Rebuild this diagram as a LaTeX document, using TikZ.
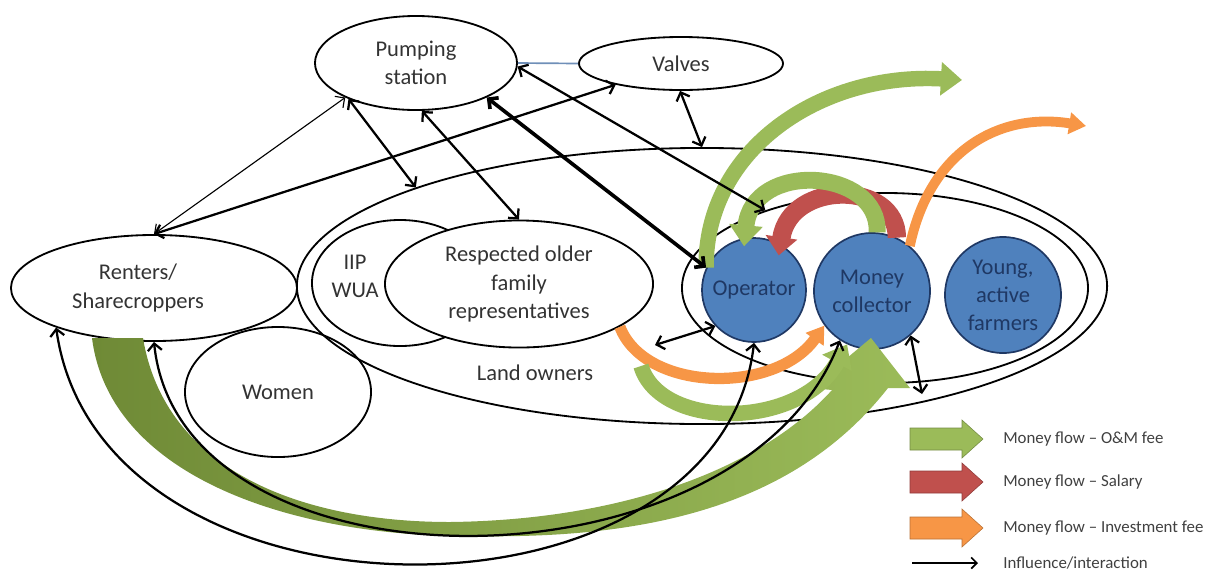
\documentclass[tikz,border=0pt]{standalone}
\usepackage{fontspec}
\setmainfont{Carlito}
\usetikzlibrary{arrows.meta,shapes.geometric}

\definecolor{omgreen}{HTML}{9BBB59}
\definecolor{omgreendark}{HTML}{6F8A36}
\definecolor{salred}{HTML}{C0504D}
\definecolor{invorange}{HTML}{F79646}
\definecolor{actblue}{HTML}{4F81BD}
\definecolor{actnavy}{HTML}{1F3864}
\definecolor{pipeblue}{HTML}{6F8FB8}

\tikzset{
  ell/.style={ellipse, draw, line width=1.3pt, inner sep=0pt, text=black!80,
    align=center, font=\fontsize{16}{20}\selectfont},
  lbl/.style={inner sep=0pt, text=black!80, align=center, font=\fontsize{16}{20}\selectfont},
  actor/.style={circle, draw=actnavy, line width=1.2pt, fill=actblue, inner sep=0pt,
    text=actnavy, align=center, font=\fontsize{16}{20}\selectfont},
  link/.style={line width=1.6pt,
    {Straight Barb[length=5pt,width=10pt]}-{Straight Barb[length=5pt,width=10pt]}},
  omfee/.style={draw=omgreen, line width=11pt, -{Triangle[length=15pt,width=23pt]}},
  salary/.style={draw=salred, line width=13pt, -{Triangle[length=13pt,width=22pt]}},
  invfee/.style={draw=invorange, line width=7pt, -{Triangle[length=12pt,width=15pt]}},
  key/.style={inner sep=0pt, anchor=west, text=black!75, font=\fontsize{12}{14}\selectfont}
}

\begin{document}
\begin{tikzpicture}[x=0.025cm, y=-0.025cm]
\useasboundingbox (0,0) rectangle (1205,581);

% === Groups ===
\node[ell, minimum width=20.25cm, minimum height=6.9cm] (landowners) at (702,286) {};
\node[ell, minimum width=10.15cm, minimum height=4.75cm] (core) at (885,288) {};
\node[ell, minimum width=4.4cm, minimum height=3.15cm] (iip) at (400,283) {};
\node[ell, fill=white, minimum width=6.7cm, minimum height=3.175cm] (elders) at (519,284)
  {Respected older\\family\\representatives};
\node[lbl] (iiptxt) at (355,276) {IIP\\WUA};
\node[lbl] (landtxt) at (535,373) {Land owners};

\node[ell, minimum width=7.15cm, minimum height=2.65cm] (renters) at (154,288)
  {\hspace*{-0.8cm}Renters/\\\hspace*{-0.8cm}Sharecroppers};
\node[ell, minimum width=4.65cm, minimum height=3.25cm] (women) at (278,392) {Women};
\node[ell, minimum width=5.05cm, minimum height=2.35cm] (pump) at (416,63) {Pumping\\station};
\node[ell, minimum width=5.1cm, minimum height=1.325cm] (valves) at (681,63.5) {Valves};

% pipe between pump and valves
\draw[pipeblue, line width=1.2pt] (pump.east) -- (valves.west);

% === Actors ===
\node[actor, minimum size=2.6cm] (operator) at (754,290) {Operator};
\node[actor, minimum size=2.9cm] (collector) at (872,291) {Money\\collector};
\node[actor, minimum size=2.9cm] (young) at (1003,295) {Young,\\active\\farmers};

% free ends
\coordinate (omout) at (962,80);
\coordinate (invout) at (1086,126);
\coordinate (omin) at (641,366);
\coordinate (inside) at (655,345);
\coordinate (rim) at (922,394);

% === Money flows ===
% big O&M fee from renters to money collector
\shade[left color=omgreendark, right color=omgreen]
  (92,338) .. controls (110,480) and (300,537) .. (470,536)
  .. controls (660,540) and (800,500) .. (888,388)
  -- (910,388) -- (871,338) -- (811,388) -- (832,390)
  .. controls (760,470) and (620,520) .. (450,522)
  .. controls (300,522) and (165,470) .. (143,338) -- cycle;

\draw[salary, shorten >=-8pt] (collector.65) .. controls (897,180) and (790,180) .. (operator.60);
\draw[omfee, line width=12pt, shorten >=-6pt] (collector.85) .. controls (880,168) and (752,160) .. (operator.100);
\draw[invfee] (collector.50) .. controls (930,150) and (1000,112) .. (invout);
\draw[omfee] (operator.155) .. controls (705,150) and (820,72) .. (omout);
\draw[invfee, line width=8pt] (elders.337) .. controls (645,392) and (775,395) .. (collector.216);
\draw[omfee, line width=11pt] (omin) .. controls (660,430) and (800,430) .. (collector.245);

% === Influence / interaction ===
\draw[link, line width=0.8pt] (renters.north) -- (pump.206);
\draw[link] (renters.north) -- (valves.198);
\draw[link] (pump.208) -- (landowners.161);
\draw[link] (pump.277) -- (elders.north);
\draw[link, line width=2.6pt] (pump.334) -- (operator.155);
\draw[link] (pump.358) -- (core.147);
\draw[link] (valves.268) -- (landowners.north);
\draw[link] (inside) -- (operator.223);
\draw[link] (collector.311) -- (rim);
\draw[link] (renters.202) .. controls (100,640) and (720,640) .. (operator.south);
\draw[link] (renters.south) .. controls (180,600) and (740,600) .. (collector.237);

% === Legend ===
\foreach \i/\yy/\col/\txt in {1/439/omgreen/{Money flow – O\&M fee},
    2/482/salred/{Money flow – Salary},
    3/528/invorange/{Money flow – Investment fee}} {
  \filldraw[fill=\col, draw=\col!75!black, line width=0.4pt]
    (910,\yy-11) -- (962,\yy-11) -- (962,\yy-19) -- (983,\yy)
    -- (962,\yy+19) -- (962,\yy+11) -- (910,\yy+11) -- cycle;
  \node[key] (key\i) at (1003,\yy) {\txt};
}
\coordinate (keyfrom) at (912,563);
\coordinate (keyto) at (978,563);
\draw[line width=1.2pt, -{Straight Barb[length=4pt,width=8pt]}] (keyfrom) -- (keyto);
\node[key] (key4) at (1003,563) {Influence/interaction};

\end{tikzpicture}
\end{document}
